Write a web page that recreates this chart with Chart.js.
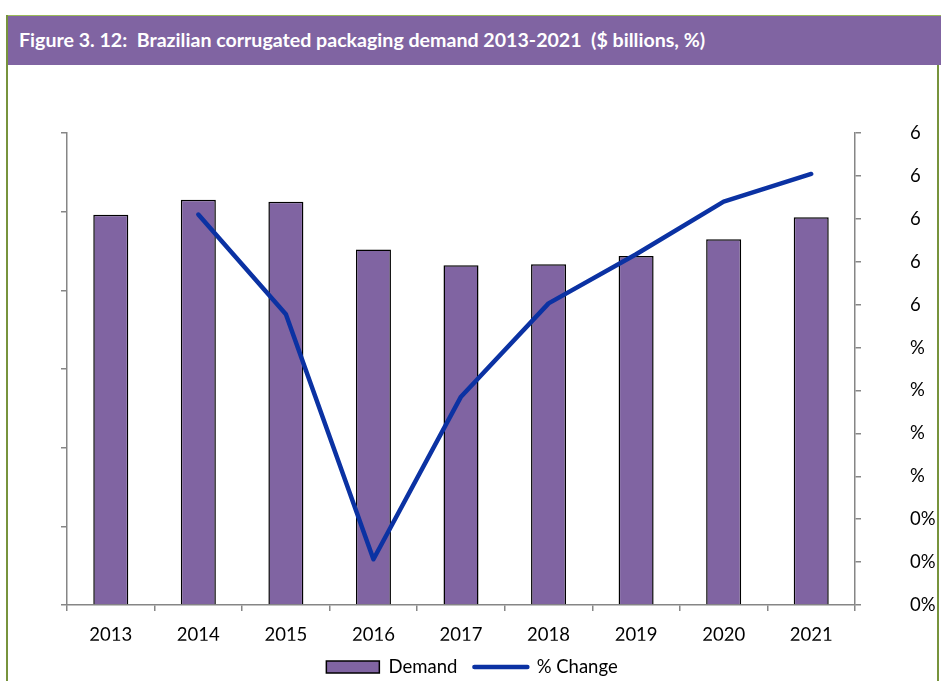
<!DOCTYPE html>
<html>
<head>
<meta charset="utf-8">
<script src="https://cdn.jsdelivr.net/npm/chart.js@4/dist/chart.umd.min.js"></script>
<style>
  html, body { margin: 0; padding: 0; background: #fff; overflow: hidden; }
  body { width: 941px; height: 681px; position: relative; font-family: Lato, "Open Sans", sans-serif; }
  #header {
    position: absolute; left: 6px; top: 15px; width: 935px; height: 50px;
    background: #8064A2; border-top: 1px solid #9BBB59; box-sizing: border-box;
  }
  #header span {
    position: absolute; left: 13px; top: 12px; color: #fff; font-weight: bold;
    font-size: 19.6px; white-space: nowrap;
  }
  #lline { position: absolute; left: 6px; top: 15px; width: 2px; height: 666px; background: #77933C; }
  #rline { position: absolute; left: 937px; top: 65px; width: 2px; height: 616px; background: #77933C; }
  #wrap { position: absolute; left: 8px; top: 66px; width: 928px; height: 624px; }
</style>
</head>
<body>
<div id="header"><span>Figure 3. 12:&nbsp; Brazilian corrugated packaging demand 2013-2021&nbsp; ($ billions, %)</span></div>
<div id="lline"></div>
<div id="rline"></div>
<div id="wrap"><canvas id="chart"></canvas></div>
<script>
const years = ["2013", "2014", "2015", "2016", "2017", "2018", "2019", "2020", "2021"];
// demand, $ billions (left axis labels are hidden in the source)
const demand = [9.92, 10.30, 10.25, 9.04, 8.64, 8.66, 8.87, 9.30, 9.86];
// % change year on year
const pctChange = [null, 6.2, 1.55, -9.87, -2.29, 2.06, 4.35, 6.8, 8.09];
// right axis labels, bottom to top, as far as they show in the picture
const rightLabels = ["0%", "0%", "0%", "%", "%", "%", "%", "6", "6", "6", "6", "6"];

const axisGray = "#868686";
const labelFont = { family: "Lato", size: 18.5 };

const ctx = document.getElementById("chart").getContext("2d");
new Chart(ctx, {
  data: {
    labels: years,
    datasets: [
      {
        type: "bar", label: "Demand", data: demand, yAxisID: "y", order: 1,
        backgroundColor: "#8064A2", borderColor: "#000", borderWidth: 1.5,
        categoryPercentage: 1, barPercentage: 0.4
      },
      {
        type: "line", label: "% Change", data: pctChange, yAxisID: "y1", order: 0,
        borderColor: "#0B32A3", borderWidth: 4.5, pointRadius: 0, tension: 0,
        borderCapStyle: "round", borderJoinStyle: "round", spanGaps: false
      }
    ]
  },
  options: {
    responsive: true, maintainAspectRatio: false, animation: false,
    layout: { padding: { top: 67, left: 0, right: 0, bottom: 3.75 } },
    plugins: {
      tooltip: { enabled: false },
      legend: {
        position: "bottom",
        labels: {
          font: labelFont, color: "#000", padding: 17,
          usePointStyle: true, pointStyleWidth: 53, boxHeight: 12,
          generateLabels(chart) {
            const items = Chart.defaults.plugins.legend.labels.generateLabels(chart);
            items.sort((a, b) => a.datasetIndex - b.datasetIndex);
            items.forEach(it => {
              if (it.datasetIndex === 0) {
                it.pointStyle = "rect"; it.fillStyle = "#8064A2"; it.strokeStyle = "#000"; it.lineWidth = 1.5;
              } else {
                it.pointStyle = "line"; it.strokeStyle = "#0B32A3"; it.lineWidth = 4.5; it.lineCap = "round";
              }
            });
            return items;
          }
        }
      }
    },
    scales: {
      x: {
        grid: { display: true, drawOnChartArea: false, tickLength: 6, color: axisGray, lineWidth: 1.5 },
        border: { color: axisGray, width: 1.5 },
        ticks: { font: labelFont, color: "#000", padding: 13, maxRotation: 0 },
        afterFit(scale) { scale.height = 35.75; }
      },
      y: {
        position: "left", min: 0, max: 12,
        grid: { drawOnChartArea: false, tickLength: 6, color: axisGray, lineWidth: 1.5 },
        border: { color: axisGray, width: 1.5 },
        ticks: { display: false, stepSize: 2 },
        afterFit(scale) { scale.width = 59; }
      },
      y1: {
        position: "right", min: -12, max: 10,
        grid: { drawOnChartArea: false, tickLength: 6, color: axisGray, lineWidth: 1.5 },
        border: { color: axisGray, width: 1.5 },
        ticks: {
          stepSize: 2, font: labelFont, color: "#000", padding: 49, crossAlign: "near",
          callback: (v, i) => rightLabels[i]
        },
        afterFit(scale) { scale.width = 81; }
      }
    }
  }
});
</script>
</body>
</html>
